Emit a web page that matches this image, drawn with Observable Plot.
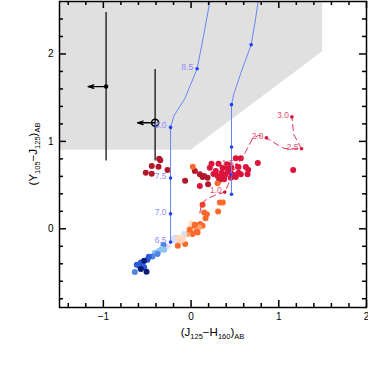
<!DOCTYPE html>
<html><head><meta charset="utf-8">
<script src="https://cdn.jsdelivr.net/npm/d3@7"></script>
<script src="https://cdn.jsdelivr.net/npm/@observablehq/plot@0.6"></script>
<style>
body{margin:0;background:#fff;}
</style></head><body><div id="chart"></div>
<script>
// ---------- data ----------
// brown-dwarf / stellar colours (x = J125-H160, y = Y105-J125, type = colour class)
const dwarfX = [
 -0.364,-0.351,-0.448,-0.371,-0.516,-0.448,-0.269,-0.068,0.043,0.100,0.131,0.188,0.149,0.194,0.320,
 0.020,0.302,
 0.100,0.510,0.567,0.761,0.233,0.313,0.214,0.359,0.541,0.624,0.282,0.302,0.339,0.388,0.416,0.491,0.541,0.567,0.644,0.510,0.453,0.377,0.651,1.164,0.408,0.427,0.453,0.256,0.416,0.460,0.350,
 0.328,0.362,0.308,0.131,0.149,0.180,0.165,0.103,0.035,0.131,0.092,0.005,0.074,0.017,-0.022,-0.040,-0.079,-0.097,-0.136,-0.068,-0.174,-0.193,-0.014,0.062,0.043,
 -0.208,-0.140,-0.094,-0.151,-0.277,-0.314,-0.334,-0.307,-0.364,-0.413,-0.383,-0.440,-0.482,-0.497,-0.573,-0.554,-0.592,-0.619,-0.535,-0.641,-0.535,-0.573,-0.508
];
const dwarfY = [
 0.802,0.783,0.718,0.710,0.642,0.631,0.673,0.551,0.661,0.624,0.593,0.585,0.604,0.510,0.555,
 0.710,0.521,
 0.490,0.806,0.806,0.753,0.745,0.745,0.699,0.699,0.707,0.707,0.661,0.604,0.593,0.616,0.653,0.616,0.642,0.624,0.624,0.593,0.585,0.567,0.676,0.673,0.738,0.730,0.642,0.627,0.699,0.700,0.640,
 0.302,0.302,0.197,0.274,0.186,0.168,0.122,0.054,0.034,0.034,0.015,0.060,-0.042,-0.060,-0.003,-0.060,-0.060,-0.111,-0.145,-0.174,-0.099,-0.137,-0.011,-0.031,0.046,
 -0.114,-0.103,-0.125,-0.194,-0.205,-0.182,-0.231,-0.239,-0.251,-0.274,-0.288,-0.316,-0.319,-0.353,-0.384,-0.403,-0.422,-0.411,-0.441,-0.494,-0.365,-0.460,-0.490
];
const dwarfType = [
 0,0,0,0,0,0,0,0,0,0,0,0,0,0,0,
 3,3,
 1,1,1,1,1,1,1,1,1,1,1,1,1,1,1,1,1,1,1,1,1,1,1,1,1,1,1,1,1,1,1,
 3,3,3,2,3,3,3,3,3,3,4,5,3,3,5,4,6,5,5,3,6,6,3,3,3,
 6,5,5,3,6,8,7,7,7,7,8,8,9,9,9,9,9,9,9,8,10,10,10
];
const typeColors = ["#b2182b","#dc143c","#f0421e","#fb6a2c","#fca36b","#fdd8bc","#dcdcf0","#8cc6f0","#4f86e6","#2c5bd6","#0a1a7a"];

// high-z galaxy track A (labelled)
const trackAX = [-0.234,-0.234,-0.234,-0.234,-0.197,-0.071,0.069,0.145,0.214,0.225];
const trackAY = [-0.152,0.171,0.582,1.16,1.29,1.49,1.83,2.22,2.6,2.69];
const trackAZ = [6.5,7.0,7.5,8.0,8.5];
const trackAZX = [-0.234,-0.234,-0.234,-0.234,0.069];
const trackAZY = [-0.152,0.171,0.582,1.16,1.83];
// high-z galaxy track B
const trackBX = [0.461,0.461,0.461,0.461,0.487,0.567,0.685,0.727,0.765,0.778];
const trackBY = [0.396,0.616,0.935,1.42,1.54,1.78,2.106,2.35,2.6,2.69];
const trackBDotX = [0.461,0.461,0.461,0.461,0.685];
const trackBDotY = [0.396,0.616,0.935,1.42,2.106];
// low-z red galaxy track
const lowzX = [0.10,0.12,0.18,0.26,0.385,0.45,0.52,0.59,0.65,0.70,0.77,0.86,0.97,1.06,1.26,1.17,1.15];
const lowzY = [0.18,0.29,0.34,0.38,0.42,0.57,0.73,0.82,0.935,1.03,1.07,1.04,0.97,0.92,0.915,1.08,1.28];
const lowzZ = [1.0,1.5,2.0,2.5,3.0];
const lowzZX = [0.385,0.52,0.86,1.26,1.15];
const lowzZY = [0.42,0.73,1.04,0.915,1.28];
// candidates with upper limits in J-H
const candX = [-0.969,-0.41];
const candY = [1.627,1.213];
const candYLo = [0.775,0.775];
const candYHi = [2.474,1.821];
const candXArrow = [-1.174,-0.61];
const candOpen = [false,true];
// selection window (Y-J > 0.9, Y-J > 0.75(J-H)+0.9, J-H < 1.5)
const selX = [-1.5,0,1.5];
const selLo = [0.9,0.9,2.025];
const selHi = [2.6,2.6,2.6];
// axes and ticks
const xDom = [-1.5, 2];
const yDom = [-0.9, 2.6];
const xMajor = [-1,0,1,2];
const yMajor = [0,1,2];
const xMinor = d3.range(-14,20,2).map(v=>v/10).filter(v=>!xMajor.includes(v));
const yMinor = d3.range(-8,26,2).map(v=>v/10).filter(v=>!yMajor.includes(v));

// ---------- tables ----------
const dwarfs = dwarfX.map((x,i)=>({x, y: dwarfY[i], type: dwarfType[i]}));
const trackA = trackAX.map((x,i)=>({x, y: trackAY[i]}));
const trackADots = trackAZ.map((z,i)=>({z, x: trackAZX[i], y: trackAZY[i]}));
const trackB = trackBX.map((x,i)=>({x, y: trackBY[i]}));
const trackBDots = trackBDotX.map((x,i)=>({x, y: trackBDotY[i]}));
const lowz = lowzX.map((x,i)=>({x, y: lowzY[i]}));
const lowzDots = lowzZ.map((z,i)=>({z, x: lowzZX[i], y: lowzZY[i]}));
const cands = candX.map((x,i)=>({x, y: candY[i], lo: candYLo[i], hi: candYHi[i], xa: candXArrow[i], open: candOpen[i]}));
const sel = selX.map((x,i)=>({x, lo: selLo[i], hi: selHi[i]}));

const W = 368, H = 367, ML = 59, MR = 2, MT = 1, MB = 60;
const kx = (xDom[1]-xDom[0]) / (W-ML-MR);   // data units per pixel
const ky = (yDom[1]-yDom[0]) / (H-MT-MB);
const MAJ = 7, MIN = 4;
const intFmt = d => d < 0 ? "\u2212" + Math.abs(d) : String(d);
const tickStyle = {stroke: "black", strokeWidth: 1.5};
const xTicks = (data, len) => [
  Plot.ruleX(data, {x: d=>d, y1: yDom[0], y2: yDom[0] + len*ky, ...tickStyle}),
  Plot.ruleX(data, {x: d=>d, y1: yDom[1], y2: yDom[1] - len*ky, ...tickStyle})
];
const yTicks = (data, len) => [
  Plot.ruleY(data, {y: d=>d, x1: xDom[0], x2: xDom[0] + len*kx, ...tickStyle}),
  Plot.ruleY(data, {y: d=>d, x1: xDom[1], x2: xDom[1] - len*kx, ...tickStyle})
];

const chart = Plot.plot({
  width: W, height: H,
  marginLeft: ML, marginRight: MR, marginTop: MT, marginBottom: MB,
  x: {domain: xDom},
  y: {domain: yDom},
  color: {type: "ordinal", domain: d3.range(typeColors.length), range: typeColors},
  style: {fontFamily: "'Liberation Sans', Arial, sans-serif", fontSize: "10px", background: "white", color: "black"},
  marks: [
    Plot.areaY(sel, {x: "x", y1: "lo", y2: "hi", fill: "#e0e0e0"}),
    Plot.ruleX(cands, {x: "x", y1: "lo", y2: "hi", stroke: "black", strokeWidth: 1.2}),
    Plot.arrow(cands, {x1: "x", y1: "y", x2: "xa", y2: "y", stroke: "black", strokeWidth: 1.3, headLength: 7, headAngle: 35}),
    Plot.dot(cands.filter(d=>!d.open), {x: "x", y: "y", r: 2.2, fill: "black"}),
    Plot.dot(cands.filter(d=>d.open), {x: "x", y: "y", r: 3.5, fill: "none", stroke: "black", strokeWidth: 1.6}),
    Plot.dot(dwarfs, {x: "x", y: "y", fill: "type", r: 3}),
    Plot.line(trackA, {x: "x", y: "y", stroke: "#6a86f0", strokeWidth: 1, clip: true}),
    Plot.line(trackB, {x: "x", y: "y", stroke: "#6a86f0", strokeWidth: 1, clip: true}),
    Plot.dot(trackADots, {x: "x", y: "y", r: 1.8, fill: "#2040ff"}),
    Plot.dot(trackBDots, {x: "x", y: "y", r: 1.8, fill: "#2040ff"}),
    Plot.text(trackADots, {x: "x", y: "y", text: d=>d.z.toFixed(1), textAnchor: "end", dx: -4, dy: -2, fill: "#8c8cff", fontSize: 8.5}),
    Plot.line(lowz, {x: "x", y: "y", stroke: "#e0305a", strokeWidth: 1, strokeDasharray: "6,4"}),
    Plot.dot(lowzDots, {x: "x", y: "y", r: 1.8, fill: "#dc143c"}),
    Plot.text(lowzDots, {x: "x", y: "y", text: d=>d.z.toFixed(1), textAnchor: "end", dx: -3, dy: -2, fill: "#e5506e", fontSize: 8.5}),
    // inward ticks on all four sides
    ...xTicks(xMinor, MIN), ...xTicks(xMajor, MAJ),
    ...yTicks(yMinor, MIN), ...yTicks(yMajor, MAJ),
    Plot.axisX(xMajor, {anchor: "bottom", tickSize: 0, tickPadding: 5, label: null, fontSize: 10, tickFormat: intFmt}),
    Plot.axisY(yMajor, {anchor: "left", tickSize: 0, tickPadding: 6, label: null, fontSize: 10, tickFormat: intFmt}),
    Plot.frame({stroke: "black", strokeWidth: 1.5})
  ]
});
document.getElementById("chart").appendChild(chart);

// axis titles with subscripts
const svg = d3.select(chart);
const xr = chart.scale("x").range, yr = chart.scale("y").range;
function addLabel(sel, parts) {
  parts.forEach(([t, sub], i) => {
    const prev = i > 0 ? parts[i-1][1] : false;
    const ts = sel.append("tspan").text(t);
    if (sub) ts.style("font-size", "7.5px").attr("dy", prev ? 0 : 3);
    else ts.style("font-size", "11.5px").attr("dy", prev ? -3 : 0);
  });
}
const xl = svg.append("text")
  .attr("x", (xr[0]+xr[1])/2).attr("y", 336)
  .attr("text-anchor", "middle").attr("fill", "black");
addLabel(xl, [["(J",false],["125",true],["\u2212H",false],["160",true],[")",false],["AB",true]]);
const ycy = (yr[0]+yr[1])/2;
const yl = svg.append("text")
  .attr("transform", `translate(37,${ycy}) rotate(-90)`)
  .attr("text-anchor", "middle").attr("fill", "black");
addLabel(yl, [["(Y",false],["105",true],["\u2212J",false],["125",true],[")",false],["AB",true]]);
</script>
</body></html>
